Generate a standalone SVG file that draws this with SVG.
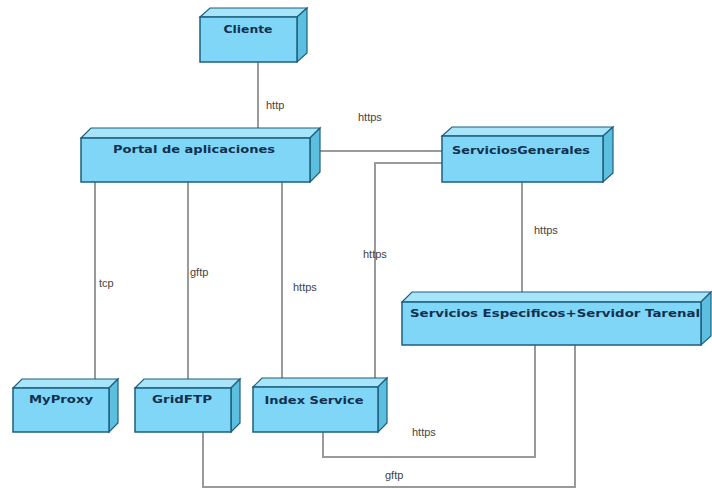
<svg xmlns="http://www.w3.org/2000/svg" width="712" height="489" viewBox="0 0 712 489">
<style>
.front{fill:#80d6f6;stroke:#1d5f7c;stroke-width:1.5}
.top{fill:#a8e4fa;stroke:#1d5f7c;stroke-width:1.2}
.side{fill:#5cbfe0;stroke:#1d5f7c;stroke-width:1.2}
.nt{font-family:"DejaVu Sans",sans-serif;font-weight:bold;font-size:10px;fill:#12304f;text-anchor:middle}
.lbl{font-family:"Liberation Sans",sans-serif;font-size:11px;fill:#444}
.c{fill:none;stroke:#9a9a9a;stroke-width:2}
</style>
<rect width="712" height="489" fill="#fff"/>
<g id="connectors">
<line class="c" x1="258" y1="62" x2="258" y2="128"/>
<line class="c" x1="320" y1="151" x2="442" y2="151"/>
<polyline class="c" points="375,387 375,163 442,163"/>
<line class="c" x1="95" y1="182" x2="95" y2="388"/>
<line class="c" x1="188" y1="182" x2="188" y2="388"/>
<line class="c" x1="282" y1="182" x2="282" y2="387"/>
<line class="c" x1="522" y1="182" x2="522" y2="292"/>
<polyline class="c" points="323,432 323,457 535,457 535,345"/>
<polyline class="c" points="203,432 203,487 575,487 575,345"/>
<text class="lbl" x="266" y="109">http</text>
<text class="lbl" x="358" y="121">https</text>
<text class="lbl" x="99" y="287">tcp</text>
<text class="lbl" x="190" y="276">gftp</text>
<text class="lbl" x="293" y="291">https</text>
<text class="lbl" x="363" y="258">https</text>
<text class="lbl" x="534" y="234">https</text>
<text class="lbl" x="412" y="436">https</text>
<text class="lbl" x="385" y="479">gftp</text>
</g>
<g id="cliente">
<polygon class="top" points="200,17 210,8 307,8 297,17"/>
<polygon class="side" points="297,17 307,8 307,53 297,62"/>
<rect class="front" x="200" y="17" width="97" height="45"/>
<text class="nt" x="248" y="33" textLength="49" lengthAdjust="spacingAndGlyphs">Cliente</text>
</g>
<g id="portal">
<polygon class="top" points="81,138 91,128 320,128 310,138"/>
<polygon class="side" points="310,138 320,128 320,172 310,182"/>
<rect class="front" x="81" y="138" width="229" height="44"/>
<text class="nt" x="194" y="153" textLength="162" lengthAdjust="spacingAndGlyphs">Portal de aplicaciones</text>
</g>
<g id="serviciosGenerales">
<polygon class="top" points="442,136 452,127 613,127 603,136"/>
<polygon class="side" points="603,136 613,127 613,173 603,182"/>
<rect class="front" x="442" y="136" width="161" height="46"/>
<text class="nt" x="521" y="154" textLength="138" lengthAdjust="spacingAndGlyphs">ServiciosGenerales</text>
</g>
<g id="serviciosEspecificos">
<polygon class="top" points="402,302 412,292 711,292 701,302"/>
<polygon class="side" points="701,302 711,292 711,336 701,345"/>
<rect class="front" x="402" y="302" width="299" height="43"/>
<text class="nt" x="555" y="317" textLength="290" lengthAdjust="spacingAndGlyphs">Servicios Especificos+Servidor Tarenal</text>
</g>
<g id="myProxy">
<polygon class="top" points="13,388 22,379 118,379 109,388"/>
<polygon class="side" points="109,388 118,379 118,423 109,432"/>
<rect class="front" x="13" y="388" width="96" height="44"/>
<text class="nt" x="61" y="403" textLength="64" lengthAdjust="spacingAndGlyphs">MyProxy</text>
</g>
<g id="gridFTP">
<polygon class="top" points="135,388 144,379 240,379 231,388"/>
<polygon class="side" points="231,388 240,379 240,423 231,432"/>
<rect class="front" x="135" y="388" width="96" height="44"/>
<text class="nt" x="182" y="403" textLength="60" lengthAdjust="spacingAndGlyphs">GridFTP</text>
</g>
<g id="indexService">
<polygon class="top" points="253,387 262,378 387,378 378,387"/>
<polygon class="side" points="378,387 387,378 387,423 378,432"/>
<rect class="front" x="253" y="387" width="125" height="45"/>
<text class="nt" x="314" y="404" textLength="99" lengthAdjust="spacingAndGlyphs">Index Service</text>
</g>
</svg>
